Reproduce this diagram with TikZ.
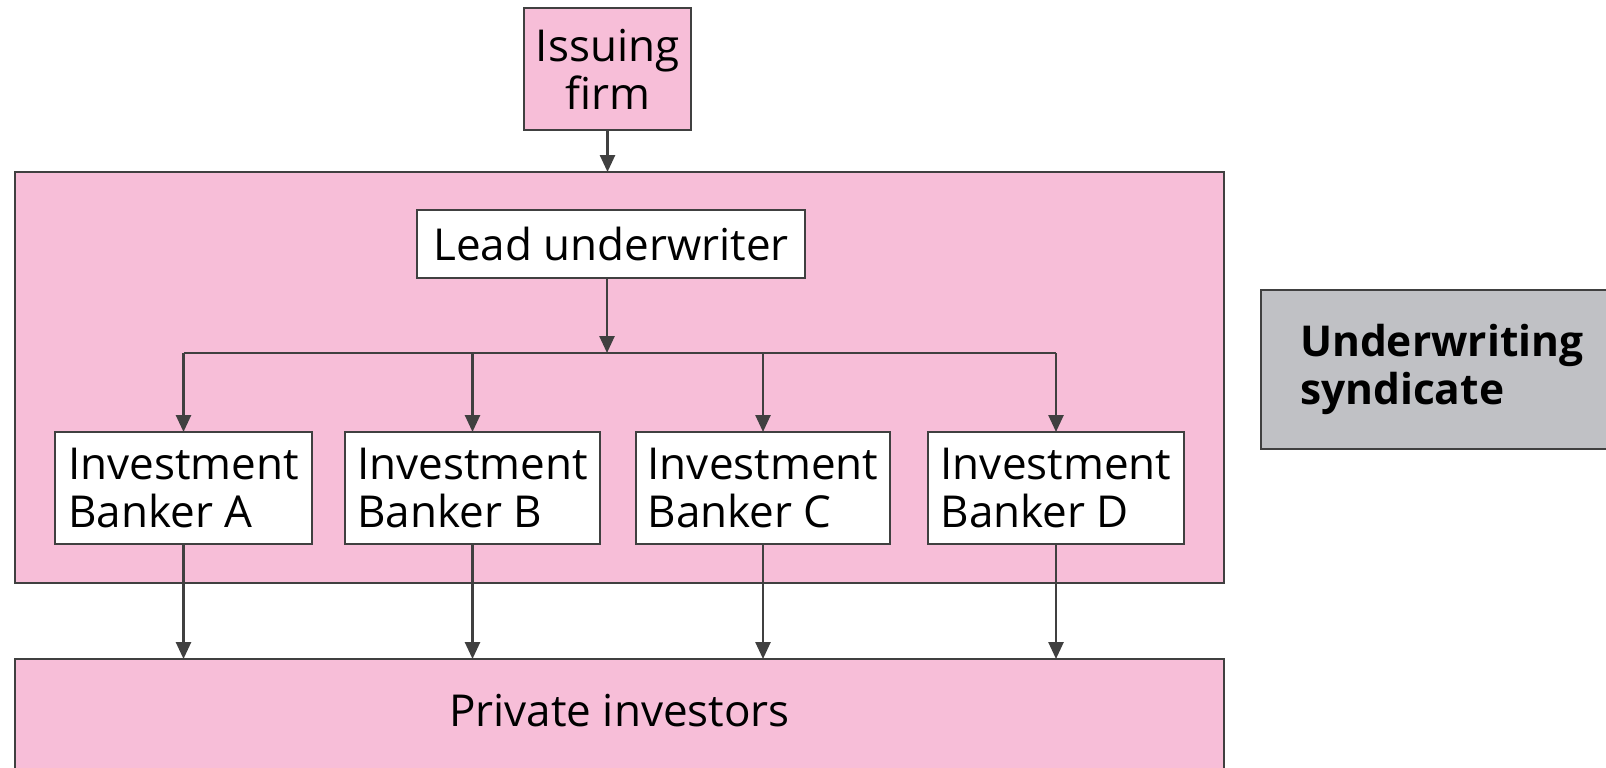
\documentclass[tikz,border=0pt]{standalone}
\usepackage{fontspec}
\setmainfont{Open Sans}
\usetikzlibrary{arrows.meta}
\definecolor{pinkbg}{RGB}{247,190,216}
\definecolor{graybg}{RGB}{192,193,197}
\definecolor{lineC}{RGB}{64,64,64}
\begin{document}
\begin{tikzpicture}[x=1pt,y=-1pt,
  font=\fontsize{44}{48}\selectfont,
  box/.style={draw=lineC, line width=2.8pt, inner sep=0pt, outer sep=0pt},
  whitebox/.style={box, fill=white, align=left},
  pinkbox/.style={box, fill=pinkbg},
  wire/.style={draw=lineC, line width=2.6pt},
  conn/.style={wire, -{Triangle[length=17pt,width=15pt]}}]
\useasboundingbox (0,0) rectangle (1606,768);
\node[pinkbox, minimum width=1209pt, minimum height=411pt] (synd) at (619.5,377.5) {};
\node[pinkbox, minimum width=167pt, minimum height=122pt, align=center] (issuer) at (607.5,69) {Issuing\\firm};
\node[whitebox, minimum width=388pt, minimum height=68pt] (lead) at (611,244) {Lead underwriter};
\node[whitebox, minimum width=257pt, minimum height=112pt] (bA) at (183.5,488) {Investment\\Banker A};
\node[whitebox, minimum width=255pt, minimum height=112pt] (bB) at (472.5,488) {Investment\\Banker B};
\node[whitebox, minimum width=254pt, minimum height=112pt] (bC) at (763,488) {Investment\\Banker C};
\node[whitebox, minimum width=256pt, minimum height=112pt] (bD) at (1056,488) {Investment\\Banker D};
\node[pinkbox, minimum width=1209pt, minimum height=131pt,
  label={[yshift=13.5pt]center:Private investors}] (priv) at (619.5,724.5) {};
\node[box, fill=graybg, minimum width=360pt, minimum height=159pt, text width=282pt,
  align=left, font=\fontsize{42.5}{48}\selectfont\bfseries] (uw) at (1441,369.5) {Underwriting\\syndicate};
\coordinate (bus) at (607,353);
\draw[conn] (issuer.south) -- (issuer.south |- synd.north);
\draw[conn] (bus |- lead.south) -- (bus);
\draw[wire] (bA.north |- bus) -- (bD.north |- bus);
\foreach \b in {bA,bB,bC,bD}{
  \draw[conn] (\b.north |- bus) -- (\b.north);
  \draw[conn] (\b.south) -- (\b.south |- priv.north);
}
\end{tikzpicture}
\end{document}
